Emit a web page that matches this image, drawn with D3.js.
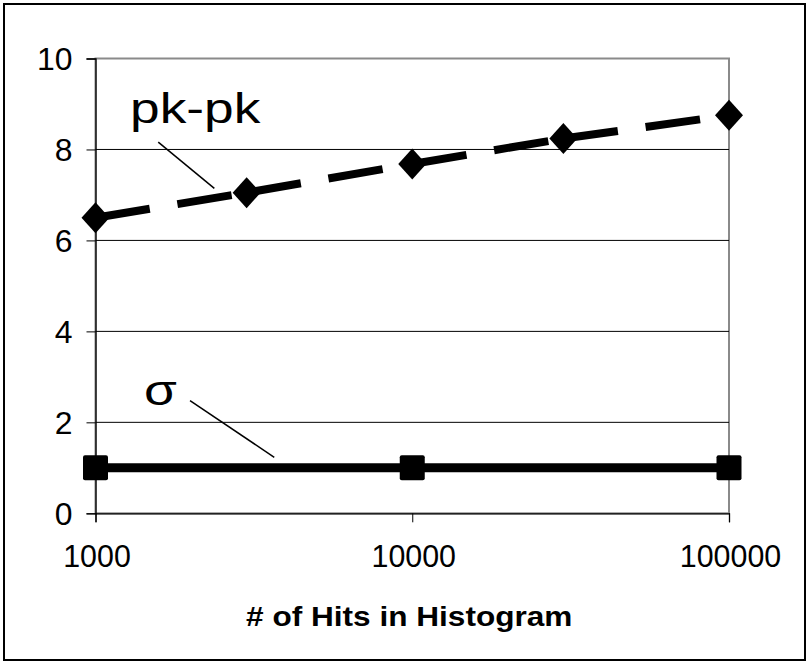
<!DOCTYPE html>
<html>
<head>
<meta charset="utf-8">
<script src="https://cdn.jsdelivr.net/npm/d3@7"></script>
<style>
  body { margin: 0; background: #fff; }
  text { font-family: "Liberation Sans", Arial, sans-serif; fill: #000; }
</style>
</head>
<body>
<svg id="chart" width="808" height="664"></svg>
<script>
// ---- data ----
const hits = [1000, 3000, 10000, 30000, 100000];
const pkpk = [6.5, 7.05, 7.68, 8.24, 8.75];
const sigmaHits = [1000, 10000, 100000];
const sigma = [1.0, 1.0, 1.0];
const xTicks = [1000, 10000, 100000];
const yTicks = [0, 2, 4, 6, 8, 10];
const gridValues = [2, 4, 6, 8];
const xTitle = "# of Hits in Histogram";
// series labels and their leader lines, in data units
const labelText = ["pk-pk", "σ"];
const labelAt = [[1285, 8.59], [1423, 2.38]];
const leaderFrom = [[1578, 8.16], [1988, 2.476]];
const leaderTo = [[2372, 7.146], [3668, 1.231]];

// ---- layout ----
const W = 808, H = 664;
const plot = { left: 95.5, right: 729, top: 58.5, bottom: 513.3 };
const svg = d3.select("#chart");

const x = d3.scaleLog().domain([1000, 100000]).range([plot.left, plot.right]);
const y = d3.scaleLinear().domain([0, 10]).range([plot.bottom, plot.top]);

// outer frame
svg.append("rect")
  .attr("x", 4).attr("y", 4).attr("width", W - 7).attr("height", H - 8)
  .attr("fill", "none").attr("stroke", "#000").attr("stroke-width", 2);

// plot area frame (grey)
svg.append("rect")
  .attr("x", plot.left).attr("y", plot.top)
  .attr("width", plot.right - plot.left).attr("height", plot.bottom - plot.top)
  .attr("fill", "none").attr("stroke", "#8a8a8a").attr("stroke-width", 2);

// horizontal gridlines
svg.append("g").selectAll("line").data(gridValues).join("line")
  .attr("x1", plot.left).attr("x2", plot.right)
  .attr("y1", d => y(d)).attr("y2", d => y(d))
  .attr("stroke", "#000").attr("stroke-width", 1);

// y axis
const yAxis = svg.append("g")
  .attr("transform", `translate(${plot.left},0)`)
  .call(d3.axisLeft(y).tickValues(yTicks).tickSize(9).tickFormat(d3.format("d")));
yAxis.select(".domain").attr("stroke", "#000").attr("stroke-width", 1.3);
yAxis.selectAll(".tick line").attr("stroke", "#000");
yAxis.selectAll(".tick text")
  .attr("x", 0).attr("dy", null)
  .attr("text-anchor", "end")
  .style("font-size", "31px")
  .attr("transform", "translate(-23,11) scale(1.03,1)");

// x axis
const xAxis = svg.append("g")
  .attr("transform", `translate(0,${plot.bottom})`)
  .call(d3.axisBottom(x).tickValues(xTicks).tickSize(9).tickFormat(d3.format("d")));
xAxis.select(".domain").attr("stroke", "#000").attr("stroke-width", 1.3);
xAxis.selectAll(".tick line").attr("stroke", "#000");
xAxis.selectAll(".tick text")
  .attr("y", 0).attr("dy", null)
  .attr("text-anchor", "middle")
  .style("font-size", "31px")
  .attr("transform", "translate(1,54) scale(0.98,1)");

// axis title
svg.append("text")
  .attr("text-anchor", "middle")
  .style("font-size", "27px").attr("font-weight", "bold")
  .attr("transform", `translate(${(plot.left + plot.right) / 2 - 3},626) scale(1.17,1)`)
  .text(xTitle);

// ---- series ----
// sigma: solid line with square markers
const sigmaPts = sigmaHits.map((h, i) => [x(h), y(sigma[i])]);
svg.append("path")
  .attr("d", d3.line()(sigmaPts))
  .attr("fill", "none").attr("stroke", "#000").attr("stroke-width", 9);
svg.append("g").selectAll("rect").data(sigmaPts).join("rect")
  .attr("x", d => d[0] - 12.5).attr("y", d => d[1] - 12.5)
  .attr("width", 25).attr("height", 25).attr("rx", 2)
  .attr("fill", "#000");

// pk-pk: long-dash line, dash pattern restarting at every point
const pkPts = hits.map((h, i) => [x(h), y(pkpk[i])]);
svg.append("g").selectAll("path").data(d3.pairs(pkPts)).join("path")
  .attr("d", d => d3.line()(d))
  .attr("fill", "none").attr("stroke", "#000").attr("stroke-width", 8)
  .attr("stroke-dasharray", "55,28");
svg.append("g").selectAll("path.m").data(pkPts).join("path")
  .attr("d", d => `M${d[0]},${d[1] - 15.5}L${d[0] + 14},${d[1]}L${d[0]},${d[1] + 15.5}L${d[0] - 14},${d[1]}Z`)
  .attr("fill", "#000");

// ---- series labels with leader lines ----
labelText.forEach((t, i) => {
  svg.append("text")
    .style("font-size", "43px")
    .attr("transform", `translate(${x(labelAt[i][0])},${y(labelAt[i][1])}) scale(1.24,1)`)
    .text(t);
  svg.append("line")
    .attr("x1", x(leaderFrom[i][0])).attr("y1", y(leaderFrom[i][1]))
    .attr("x2", x(leaderTo[i][0])).attr("y2", y(leaderTo[i][1]))
    .attr("stroke", "#000").attr("stroke-width", 1.5);
});
</script>
</body>
</html>
